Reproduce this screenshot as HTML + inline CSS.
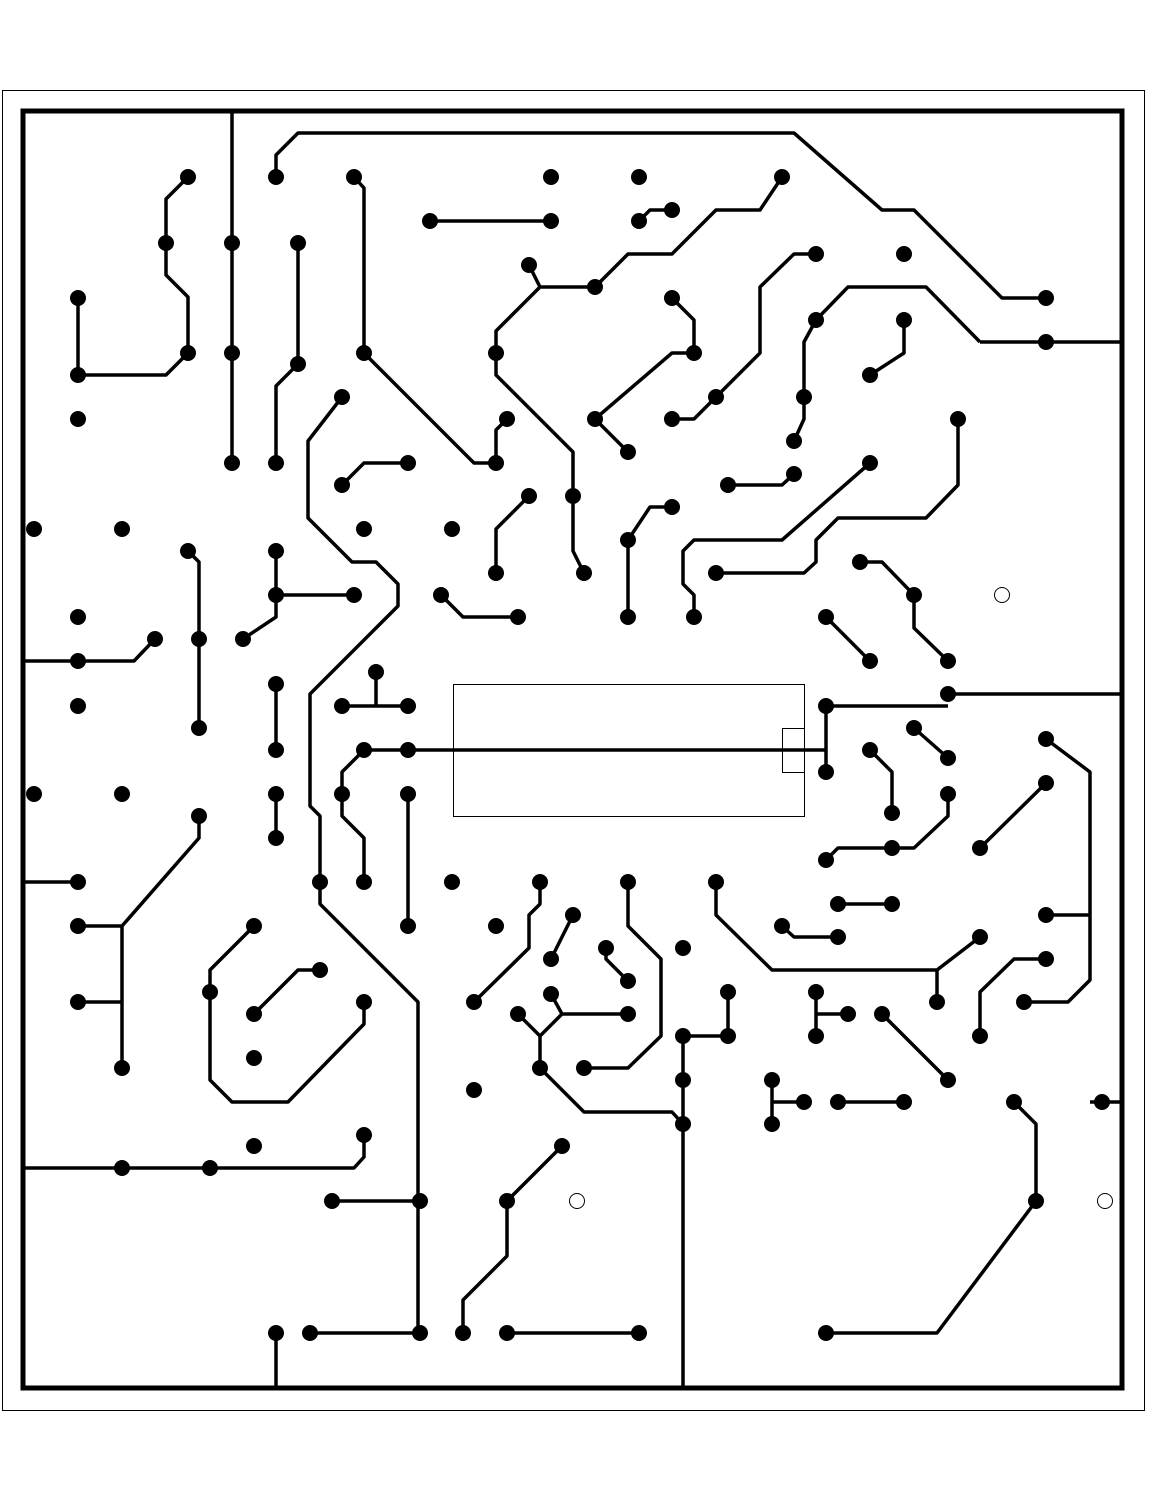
<!DOCTYPE html>
<html><head><meta charset="utf-8"><style>html,body{margin:0;padding:0;background:#fff}svg{display:block}</style></head>
<body>
<svg width="1168" height="1501" viewBox="0 0 1168 1501" xmlns="http://www.w3.org/2000/svg">
<rect x="2.5" y="90.5" width="1142" height="1320" fill="none" stroke="#000" stroke-width="1"/>
<rect x="23" y="111" width="1099" height="1277" fill="none" stroke="#000" stroke-width="5"/>
<rect x="453.5" y="684.5" width="351" height="132" fill="none" stroke="#000" stroke-width="1"/>
<rect x="782.5" y="728.5" width="22" height="44" fill="none" stroke="#000" stroke-width="1"/>
<circle cx="1002" cy="595" r="7.5" fill="#fff" stroke="#000" stroke-width="1"/>
<circle cx="1105" cy="1201" r="7.5" fill="#fff" stroke="#000" stroke-width="1"/>
<circle cx="577" cy="1201" r="7.5" fill="#fff" stroke="#000" stroke-width="1"/>
<g fill="none" stroke="#000" stroke-width="3.5" stroke-linejoin="round">
<path d="M232,110V463"/>
<path d="M188,177L166,199V275L188,297V353L166,375H78V298"/>
<path d="M276,177V155L298,133H794L882,210H914L1002,298H1046"/>
<path d="M298,243V364L276,386V463"/>
<path d="M354,177L364,188V353L474,463H496V430L507,419"/>
<path d="M342,397L308,441V518L352,562H376L398,584V606L310,694V806L320,816V904L418,1002V1333"/>
<path d="M310,1333H420M332,1201H420"/>
<path d="M342,485L364,463H408"/>
<path d="M188,551L199,562V728"/>
<path d="M276,551V617L243,639M276,595H354"/>
<path d="M22,661H134L155,639"/>
<path d="M276,684V750M276,794V838"/>
<path d="M199,816V838L122,926V1068M78,926H122M78,1002H122"/>
<path d="M22,882H78"/>
<path d="M254,926L210,970V1080L232,1102H288L364,1024V1002"/>
<path d="M320,970H298L254,1014"/>
<path d="M22,1168H354L364,1157V1135"/>
<path d="M276,1333V1388"/>
<path d="M342,706H408M376,672V706"/>
<path d="M364,750H826M364,750L342,772V816L364,838V882"/>
<path d="M408,794V926"/>
<path d="M826,706V772M826,706H948M948,694H1122"/>
<path d="M430,221H551"/>
<path d="M639,221L650,210H672"/>
<path d="M782,177L760,210H716L672,254H628L595,287H540L529,265M540,287L496,331V375L573,452V551L584,573"/>
<path d="M816,254H794L760,287V353L716,397L694,419H672"/>
<path d="M672,298L694,320V353H672L595,419L628,452"/>
<path d="M980,342H1122M980,342L926,287H848L816,320L804,342V419L794,441"/>
<path d="M904,320V353L870,375"/>
<path d="M958,419V485L926,518H838L816,540V562L804,573H716"/>
<path d="M870,463L782,540H694L683,551V584L694,595V617"/>
<path d="M794,474L782,485H728"/>
<path d="M672,507H650L628,540V617"/>
<path d="M529,496L496,529V573"/>
<path d="M441,595L463,617H518"/>
<path d="M860,562H882L914,595V628L948,661"/>
<path d="M826,617L870,661"/>
<path d="M914,728L948,758"/>
<path d="M870,750L892,772V813"/>
<path d="M948,794V816L914,848H838L826,860"/>
<path d="M1046,739L1090,772V980L1068,1002H1024M1046,915H1090"/>
<path d="M1046,783L980,848"/>
<path d="M838,904H892"/>
<path d="M782,926L794,937H838"/>
<path d="M716,882V915L772,970H937L980,937M937,970V1002"/>
<path d="M1046,959H1014L980,992V1036"/>
<path d="M540,882V904L529,915V948L474,1002"/>
<path d="M573,915L551,959"/>
<path d="M628,882V926L661,959V1036L628,1068H584"/>
<path d="M606,948V959L628,981"/>
<path d="M551,994L562,1014H628M562,1014L540,1036L518,1014M540,1036V1068L584,1112H672L683,1124"/>
<path d="M683,1036V1388M683,1036H728V992"/>
<path d="M816,992V1036M816,1014H848"/>
<path d="M882,1014L948,1080"/>
<path d="M772,1080V1124M772,1102H804"/>
<path d="M838,1102H904"/>
<path d="M1014,1102L1036,1124V1201L937,1333H826"/>
<path d="M1090,1102H1122"/>
<path d="M562,1146L507,1201V1256L463,1300V1333"/>
<path d="M507,1333H639"/>
</g>
<g fill="#000">
<circle cx="232" cy="243" r="8"/><circle cx="232" cy="353" r="8"/><circle cx="232" cy="463" r="8"/>
<circle cx="188" cy="177" r="8"/><circle cx="166" cy="243" r="8"/><circle cx="188" cy="353" r="8"/><circle cx="78" cy="375" r="8"/><circle cx="78" cy="298" r="8"/>
<circle cx="78" cy="419" r="8"/><circle cx="276" cy="177" r="8"/><circle cx="1046" cy="298" r="8"/>
<circle cx="298" cy="243" r="8"/><circle cx="298" cy="364" r="8"/><circle cx="276" cy="463" r="8"/>
<circle cx="354" cy="177" r="8"/><circle cx="364" cy="353" r="8"/><circle cx="496" cy="463" r="8"/><circle cx="507" cy="419" r="8"/>
<circle cx="342" cy="397" r="8"/><circle cx="320" cy="882" r="8"/><circle cx="420" cy="1201" r="8"/><circle cx="420" cy="1333" r="8"/><circle cx="310" cy="1333" r="8"/><circle cx="332" cy="1201" r="8"/>
<circle cx="342" cy="485" r="8"/><circle cx="408" cy="463" r="8"/>
<circle cx="364" cy="529" r="8"/><circle cx="452" cy="529" r="8"/><circle cx="34" cy="529" r="8"/><circle cx="122" cy="529" r="8"/>
<circle cx="188" cy="551" r="8"/><circle cx="199" cy="639" r="8"/><circle cx="199" cy="728" r="8"/>
<circle cx="276" cy="551" r="8"/><circle cx="276" cy="595" r="8"/><circle cx="354" cy="595" r="8"/><circle cx="243" cy="639" r="8"/>
<circle cx="78" cy="617" r="8"/><circle cx="155" cy="639" r="8"/><circle cx="78" cy="661" r="8"/><circle cx="78" cy="706" r="8"/>
<circle cx="276" cy="684" r="8"/><circle cx="276" cy="750" r="8"/><circle cx="34" cy="794" r="8"/><circle cx="122" cy="794" r="8"/>
<circle cx="276" cy="794" r="8"/><circle cx="276" cy="838" r="8"/>
<circle cx="199" cy="816" r="8"/><circle cx="122" cy="1068" r="8"/><circle cx="78" cy="926" r="8"/><circle cx="78" cy="1002" r="8"/><circle cx="78" cy="882" r="8"/>
<circle cx="254" cy="926" r="8"/><circle cx="210" cy="992" r="8"/><circle cx="364" cy="1002" r="8"/>
<circle cx="320" cy="970" r="8"/><circle cx="254" cy="1014" r="8"/><circle cx="254" cy="1058" r="8"/><circle cx="254" cy="1146" r="8"/>
<circle cx="364" cy="1135" r="8"/><circle cx="122" cy="1168" r="8"/><circle cx="210" cy="1168" r="8"/><circle cx="276" cy="1333" r="8"/>
<circle cx="342" cy="706" r="8"/><circle cx="408" cy="706" r="8"/><circle cx="376" cy="672" r="8"/>
<circle cx="364" cy="750" r="8"/><circle cx="408" cy="750" r="8"/><circle cx="342" cy="794" r="8"/><circle cx="364" cy="882" r="8"/>
<circle cx="408" cy="794" r="8"/><circle cx="408" cy="926" r="8"/><circle cx="452" cy="882" r="8"/>
<circle cx="826" cy="706" r="8"/><circle cx="826" cy="772" r="8"/><circle cx="948" cy="694" r="8"/>
<circle cx="430" cy="221" r="8"/><circle cx="551" cy="221" r="8"/><circle cx="551" cy="177" r="8"/><circle cx="639" cy="177" r="8"/>
<circle cx="639" cy="221" r="8"/><circle cx="672" cy="210" r="8"/>
<circle cx="782" cy="177" r="8"/><circle cx="595" cy="287" r="8"/><circle cx="529" cy="265" r="8"/><circle cx="496" cy="353" r="8"/><circle cx="573" cy="496" r="8"/><circle cx="584" cy="573" r="8"/>
<circle cx="816" cy="254" r="8"/><circle cx="716" cy="397" r="8"/><circle cx="672" cy="419" r="8"/><circle cx="904" cy="254" r="8"/>
<circle cx="672" cy="298" r="8"/><circle cx="694" cy="353" r="8"/><circle cx="595" cy="419" r="8"/><circle cx="628" cy="452" r="8"/>
<circle cx="1046" cy="342" r="8"/><circle cx="816" cy="320" r="8"/><circle cx="804" cy="397" r="8"/><circle cx="794" cy="441" r="8"/>
<circle cx="904" cy="320" r="8"/><circle cx="870" cy="375" r="8"/>
<circle cx="958" cy="419" r="8"/><circle cx="716" cy="573" r="8"/>
<circle cx="870" cy="463" r="8"/><circle cx="694" cy="617" r="8"/>
<circle cx="794" cy="474" r="8"/><circle cx="728" cy="485" r="8"/>
<circle cx="672" cy="507" r="8"/><circle cx="628" cy="540" r="8"/><circle cx="628" cy="617" r="8"/>
<circle cx="529" cy="496" r="8"/><circle cx="496" cy="573" r="8"/><circle cx="441" cy="595" r="8"/><circle cx="518" cy="617" r="8"/>
<circle cx="860" cy="562" r="8"/><circle cx="914" cy="595" r="8"/><circle cx="948" cy="661" r="8"/>
<circle cx="826" cy="617" r="8"/><circle cx="870" cy="661" r="8"/>
<circle cx="914" cy="728" r="8"/><circle cx="948" cy="758" r="8"/>
<circle cx="870" cy="750" r="8"/><circle cx="892" cy="813" r="8"/>
<circle cx="948" cy="794" r="8"/><circle cx="892" cy="848" r="8"/><circle cx="826" cy="860" r="8"/>
<circle cx="1046" cy="739" r="8"/><circle cx="1024" cy="1002" r="8"/><circle cx="1046" cy="915" r="8"/>
<circle cx="1046" cy="783" r="8"/><circle cx="980" cy="848" r="8"/>
<circle cx="838" cy="904" r="8"/><circle cx="892" cy="904" r="8"/>
<circle cx="782" cy="926" r="8"/><circle cx="838" cy="937" r="8"/>
<circle cx="716" cy="882" r="8"/><circle cx="980" cy="937" r="8"/><circle cx="937" cy="1002" r="8"/>
<circle cx="1046" cy="959" r="8"/><circle cx="980" cy="1036" r="8"/>
<circle cx="540" cy="882" r="8"/><circle cx="474" cy="1002" r="8"/><circle cx="496" cy="926" r="8"/>
<circle cx="573" cy="915" r="8"/><circle cx="551" cy="959" r="8"/>
<circle cx="628" cy="882" r="8"/><circle cx="584" cy="1068" r="8"/>
<circle cx="606" cy="948" r="8"/><circle cx="628" cy="981" r="8"/><circle cx="683" cy="948" r="8"/>
<circle cx="551" cy="994" r="8"/><circle cx="628" cy="1014" r="8"/><circle cx="518" cy="1014" r="8"/><circle cx="540" cy="1068" r="8"/>
<circle cx="683" cy="1036" r="8"/><circle cx="683" cy="1080" r="8"/><circle cx="683" cy="1124" r="8"/><circle cx="728" cy="1036" r="8"/><circle cx="728" cy="992" r="8"/>
<circle cx="474" cy="1090" r="8"/>
<circle cx="816" cy="992" r="8"/><circle cx="816" cy="1036" r="8"/><circle cx="848" cy="1014" r="8"/>
<circle cx="882" cy="1014" r="8"/><circle cx="948" cy="1080" r="8"/>
<circle cx="772" cy="1080" r="8"/><circle cx="772" cy="1124" r="8"/><circle cx="804" cy="1102" r="8"/>
<circle cx="838" cy="1102" r="8"/><circle cx="904" cy="1102" r="8"/>
<circle cx="1014" cy="1102" r="8"/><circle cx="1036" cy="1201" r="8"/><circle cx="826" cy="1333" r="8"/>
<circle cx="1102" cy="1102" r="8"/>
<circle cx="562" cy="1146" r="8"/><circle cx="507" cy="1201" r="8"/><circle cx="463" cy="1333" r="8"/>
<circle cx="507" cy="1333" r="8"/><circle cx="639" cy="1333" r="8"/>
</g>
</svg>
</body></html>
